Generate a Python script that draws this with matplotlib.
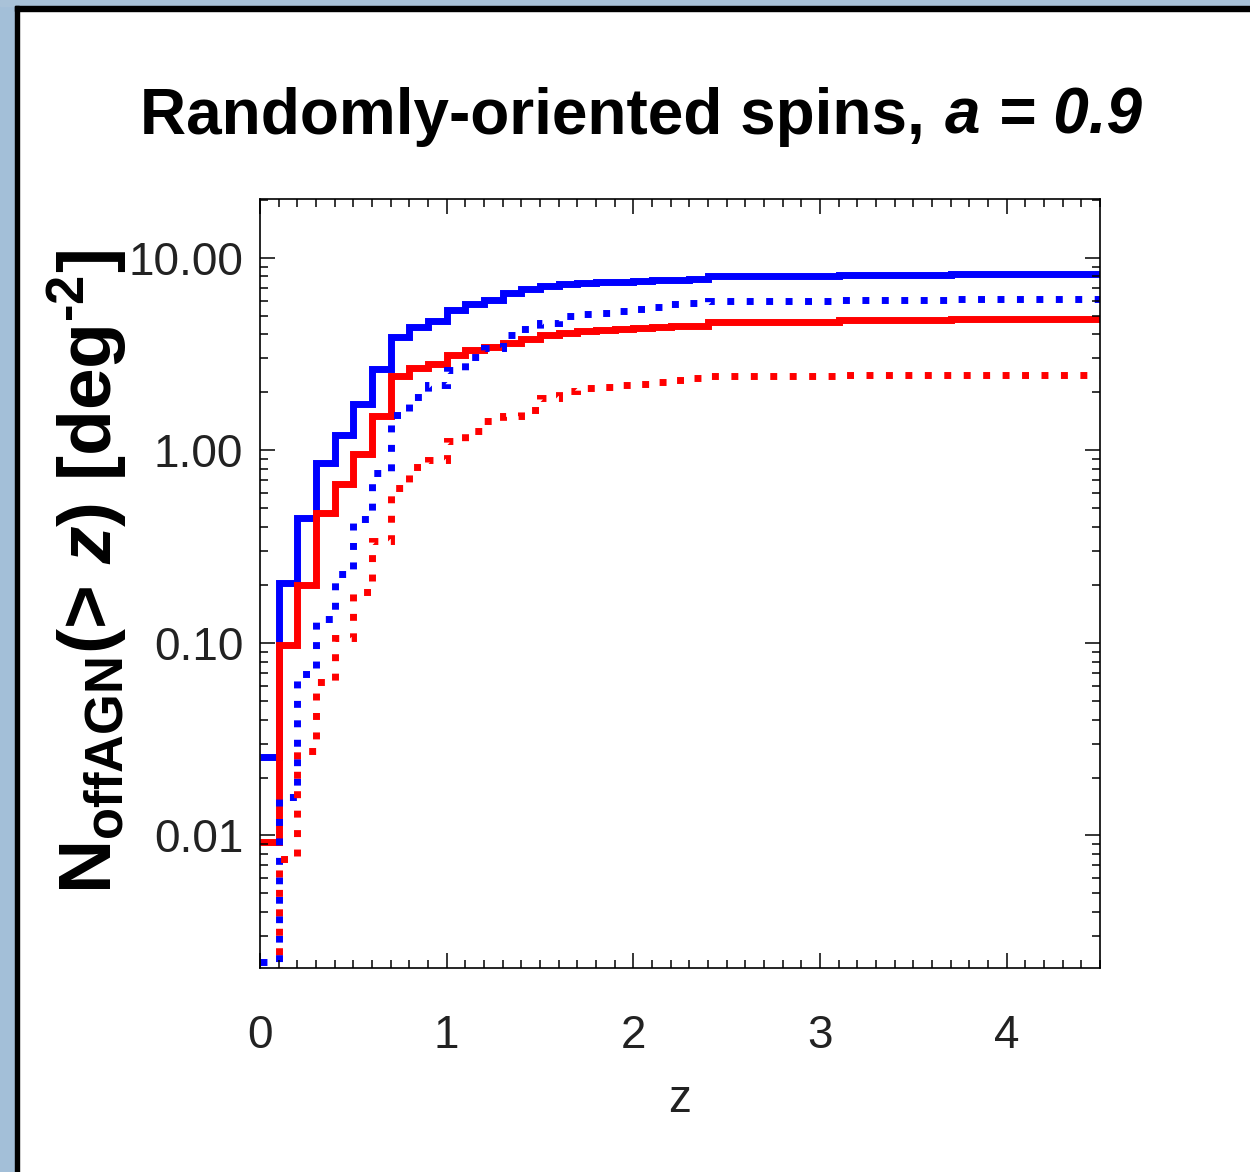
import matplotlib
matplotlib.use("Agg")
import matplotlib.pyplot as plt
from matplotlib.patches import Rectangle
from matplotlib.ticker import MultipleLocator, LogLocator, FixedLocator, FormatStrFormatter, NullFormatter

plt.rcParams['font.family'] = ['Liberation Sans', 'DejaVu Sans']
plt.rcParams['mathtext.fontset'] = 'custom'
plt.rcParams['mathtext.rm'] = 'Liberation Sans:bold'
plt.rcParams['mathtext.bf'] = 'Liberation Sans:bold'
plt.rcParams['mathtext.it'] = 'Liberation Sans:bold:italic'

# bin edges in redshift
z_edges = [0.0, 0.1, 0.2, 0.3, 0.4, 0.5, 0.6, 0.7, 0.8, 0.9, 1.0, 1.1, 1.2,
           1.3, 1.4, 1.5, 1.6, 1.7, 1.8, 1.9, 2.0, 2.1, 2.2, 2.3, 2.4, 3.1, 3.7, 4.5]

# cumulative counts per bin (deg^-2)
blue_solid = [0.0256, 0.205, 0.446, 0.86, 1.2, 1.75, 2.65, 3.89, 4.35, 4.71, 5.35,
              5.77, 6.05, 6.56, 6.9, 7.17, 7.33, 7.42, 7.48, 7.53, 7.58, 7.63,
              7.68, 7.72, 8.09, 8.15, 8.23]
red_solid = [0.0092, 0.098, 0.199, 0.472, 0.668, 0.96, 1.5, 2.42, 2.67, 2.81, 3.13,
             3.33, 3.44, 3.6, 3.8, 3.95, 4.08, 4.18, 4.24, 4.28, 4.32, 4.36,
             4.40, 4.45, 4.65, 4.73, 4.82]
blue_dotted = [0.0022, 0.0158, 0.069, 0.133, 0.228, 0.44, 0.76, 1.53, 1.9, 2.19, 2.62,
               3.06, 3.41, 3.98, 4.28, 4.6, 5.0, 5.12, 5.18, 5.31, 5.43, 5.56,
               5.75, 5.84, 5.93, 6.02, 6.12]
red_dotted = [0.0015, 0.00755, 0.0275, 0.0627, 0.106, 0.184, 0.339, 0.638, 0.82, 0.893,
              1.12, 1.26, 1.42, 1.51, 1.62, 1.87, 2.04, 2.10, 2.14, 2.18, 2.22, 2.27,
              2.33, 2.38, 2.42, 2.45, 2.47]

W, H = 1250, 1172
fig = plt.figure(figsize=(12.5, 11.72), dpi=100)

# slide frame
fig.patches.append(Rectangle((0, 0), 15 / W, 1, transform=fig.transFigure, color='#a3bfd8', zorder=0))
fig.patches.append(Rectangle((0, 1 - 6 / H), 1, 6 / H, transform=fig.transFigure, color='#a9c2d8', zorder=0))
fig.patches.append(Rectangle((15 / W, 0), 4 / W, 1 - 6 / H, transform=fig.transFigure, color='black', zorder=1))
fig.patches.append(Rectangle((15 / W, 1 - 11 / H), 1, 5 / H, transform=fig.transFigure, color='black', zorder=1))

ax = fig.add_axes([260 / W, 1 - 968 / H, 840 / W, 769 / H])

lw = 5
ax.stairs(blue_solid, z_edges, baseline=None, color='#0000ff', lw=lw)
ax.stairs(red_solid, z_edges, baseline=None, color='#ff0000', lw=lw)
ax.stairs(blue_dotted, z_edges, baseline=None, color='#0000ff', lw=lw, linestyle=(0, (1, 1.8)))
ax.stairs(red_dotted, z_edges, baseline=None, color='#ff0000', lw=lw, linestyle=(0, (1, 1.8)))

ax.set_yscale('log')
ax.set_xlim(0, 4.5)
ax.set_ylim(0.00205, 20.2)

ax.xaxis.set_major_locator(MultipleLocator(1))
ax.xaxis.set_minor_locator(MultipleLocator(0.1))
ax.yaxis.set_major_locator(FixedLocator([0.01, 0.1, 1, 10]))
ax.yaxis.set_minor_locator(LogLocator(base=10, subs=range(2, 10)))
ax.yaxis.set_major_formatter(FormatStrFormatter('%.2f'))
ax.yaxis.set_minor_formatter(NullFormatter())

for s in ax.spines.values():
    s.set_linewidth(1.2)
ax.tick_params(which='both', direction='in', top=True, right=True, width=1.1, colors='black',
               labelcolor='#222222', labelsize=33)
ax.tick_params(which='major', length=11)
ax.tick_params(which='minor', length=5.5)
ax.tick_params(axis='x', pad=33)
ax.tick_params(axis='y', pad=12)

fig.text(680 / W, 1 - 1100 / H, 'z', ha='center', va='center', fontsize=33, color='#222222')

# title in two pieces: plain bold + bold italic
fig.text(925 / W, 1 - 117 / H, 'Randomly-oriented spins,', ha='right', va='center',
         fontsize=46, fontweight='bold')
fig.text(945 / W, 1 - 117 / H, 'a = 0.9', ha='left', va='center',
         fontsize=46, fontweight='bold', fontstyle='italic')

fig.text(88 / W, 1 - 572 / H, 'N$_{\\mathrm{offAGN}}$(> $\\mathit{z}$) [deg$^{\\mathrm{\u2010 2}}$]',
         ha='center', va='center', rotation=90, fontsize=54, fontweight='bold')

fig.savefig('out.png', dpi=100)
